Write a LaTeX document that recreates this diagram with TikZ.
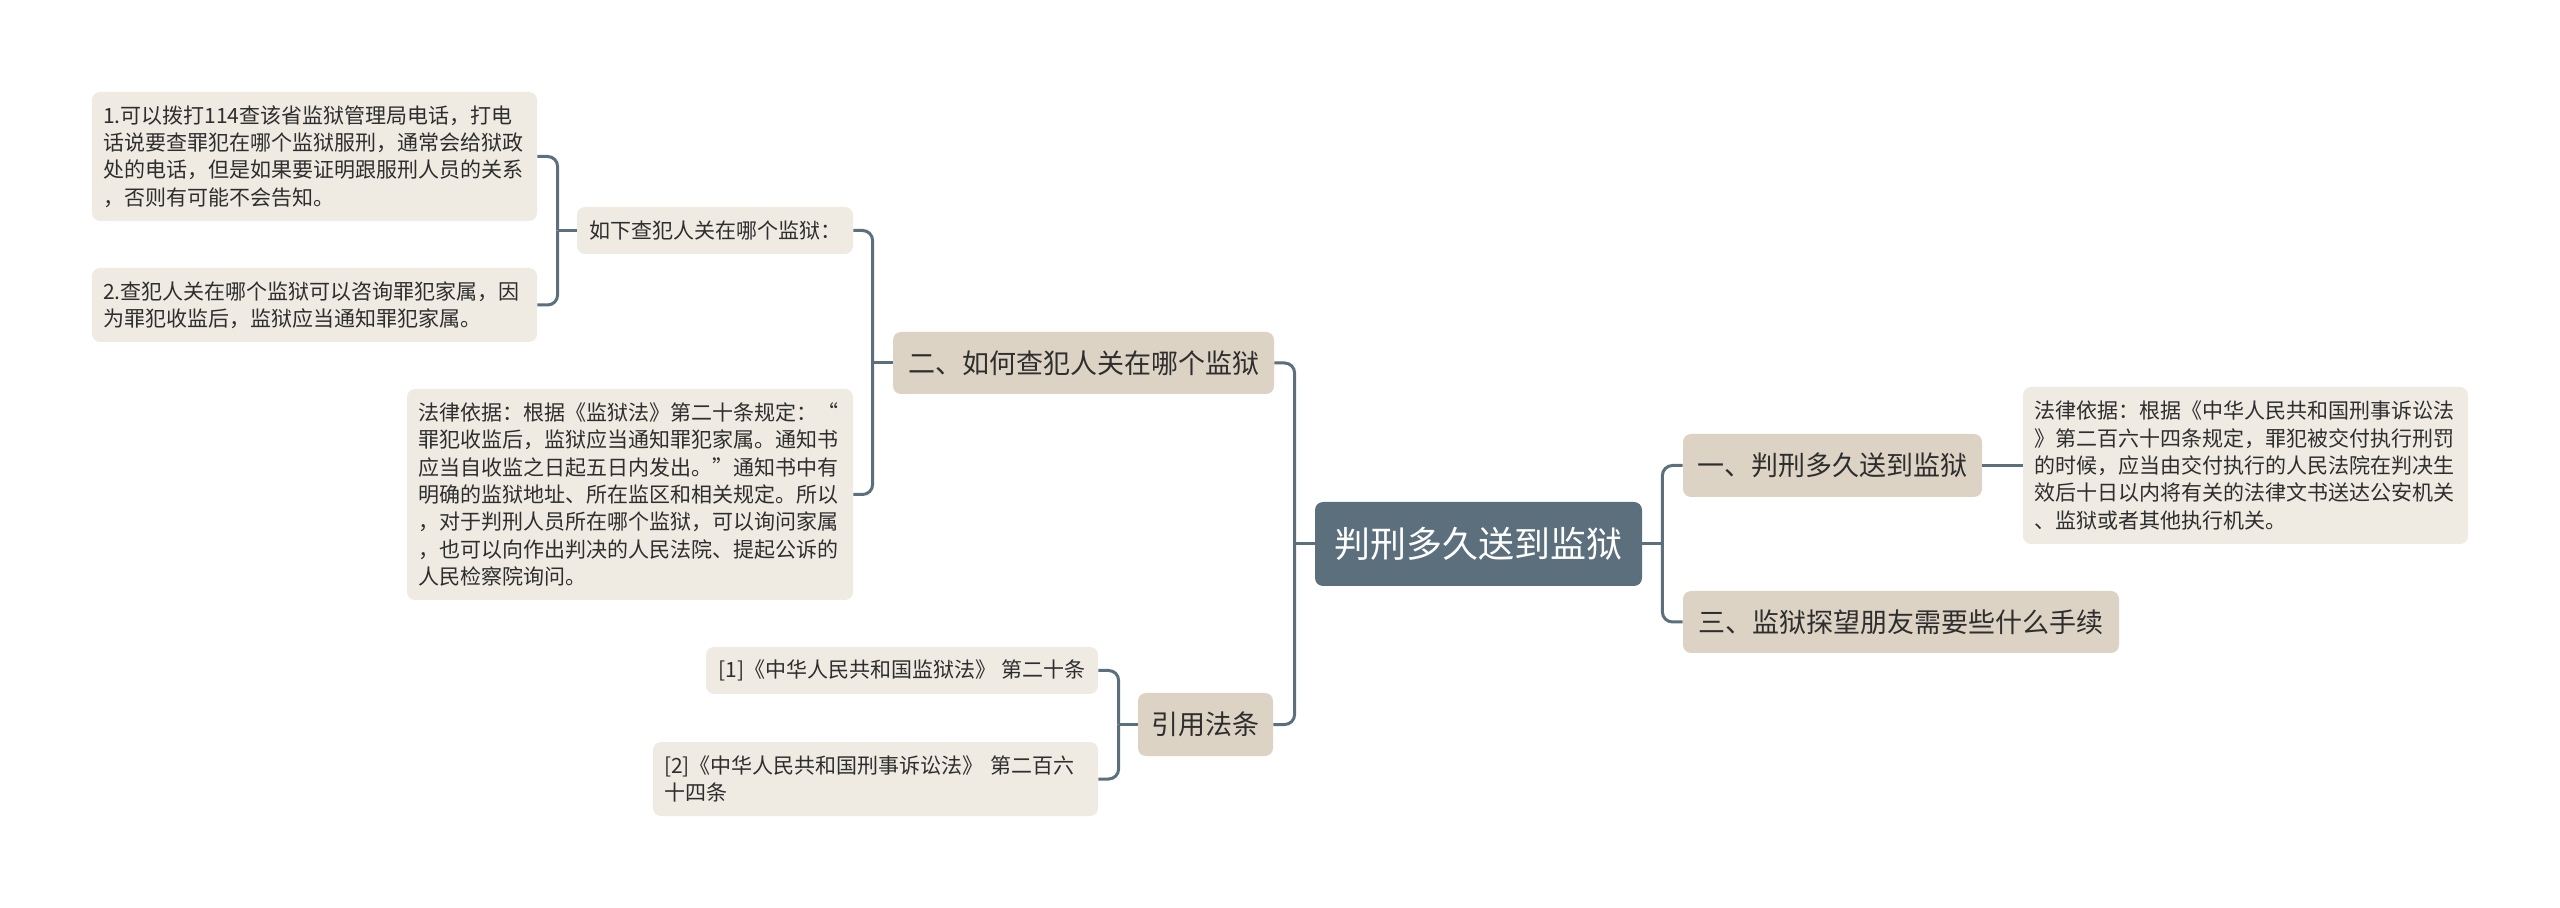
\documentclass[tikz,border=0pt]{standalone}
\usepackage{fontspec}
\setmainfont{Noto Sans CJK SC}
\definecolor{slate}{HTML}{5C6F7C}
\definecolor{beige}{HTML}{DDD3C4}
\definecolor{leaf}{HTML}{EFEBE3}
\definecolor{ink}{HTML}{2E2E2E}
\tikzset{
  base/.style={rounded corners=4pt, inner sep=0pt, anchor=center, text=ink},
  rootbox/.style={base, fill=slate, text=white, font=\fontsize{18}{22}\selectfont, align=center},
  mainbox/.style={base, fill=beige, font=\fontsize{13.5}{16}\selectfont, align=center},
  leafbox/.style={base, fill=leaf, font=\fontsize{10.5}{13.65}\selectfont},
  leafpara/.style={leafbox, align=left, inner xsep=5.5pt},
  conn/.style={draw=slate, line width=1.5pt, rounded corners=5pt},
}
\begin{document}
\begin{tikzpicture}[x=0.5pt,y=-0.5pt]
\useasboundingbox (0,0) rectangle (2560,908);
% nodes
\node[rootbox, minimum width=163.5pt, minimum height=42pt] (root) at (1478.5,544) {判刑多久送到监狱};
\node[mainbox, minimum width=190.5pt, minimum height=31pt] (er) at (1083.5,363) {二、如何查犯人关在哪个监狱};
\node[mainbox, minimum width=149.5pt, minimum height=31.5pt] (yi) at (1832.5,465.5) {一、判刑多久送到监狱};
\node[mainbox, minimum width=218pt, minimum height=31pt] (san) at (1901,622) {三、监狱探望朋友需要些什么手续};
\node[mainbox, minimum width=67.5pt, minimum height=31.5pt] (yinyong) at (1205.5,724.5) {引用法条};
\node[leafbox, align=center, minimum width=138pt, minimum height=23.5pt] (ruxia) at (715,230.5) {如下查犯人关在哪个监狱：};
\node[leafpara, text width=211.5pt, minimum height=64.5pt] (b1) at (314.5,156.5) {1.可以拨打114查该省监狱管理局电话，打电\\话说要查罪犯在哪个监狱服刑，通常会给狱政\\处的电话，但是如果要证明跟服刑人员的关系\\，否则有可能不会告知。};
\node[leafpara, text width=211.5pt, minimum height=37pt] (b2) at (314.5,305) {2.查犯人关在哪个监狱可以咨询罪犯家属，因\\为罪犯收监后，监狱应当通知罪犯家属。};
\node[leafpara, text width=212pt, minimum height=105.5pt] (legL) at (630,494.5) {法律依据：根据《监狱法》第二十条规定：“\\罪犯收监后，监狱应当通知罪犯家属。通知书\\应当自收监之日起五日内发出。”通知书中有\\明确的监狱地址、所在监区和相关规定。所以\\，对于判刑人员所在哪个监狱，可以询问家属\\，也可以向作出判决的人民法院、提起公诉的\\人民检察院询问。};
\node[leafpara, text width=211.5pt, minimum height=78.5pt] (legR) at (2245.5,465.5) {法律依据：根据《中华人民共和国刑事诉讼法\\》第二百六十四条规定，罪犯被交付执行刑罚\\的时候，应当由交付执行的人民法院在判决生\\效后十日以内将有关的法律文书送达公安机关\\、监狱或者其他执行机关。};
\node[leafbox, align=center, minimum width=196pt, minimum height=23.5pt] (f1) at (902,670.5) {[1]《中华人民共和国监狱法》 第二十条};
\node[leafpara, text width=211.5pt, minimum height=37pt] (f2) at (875.5,779) {[2]《中华人民共和国刑事诉讼法》 第二百六\\十四条};
% junctions
\coordinate (j1) at ([xshift=-9.5pt]ruxia.west);
\coordinate (j2) at ([xshift=-10pt]er.west);
\coordinate (j3) at ([xshift=-10pt]root.west);
\coordinate (j4) at ([xshift=10pt]root.east);
\coordinate (j5) at ([xshift=-9.5pt]yinyong.west);
% connectors
\draw[conn] (ruxia.west) -- (j1);
\draw[conn] (j1) |- (b1.east);
\draw[conn] (j1) |- (b2.east);
\draw[conn] (er.west) -- (j2);
\draw[conn] (j2) |- (ruxia.east);
\draw[conn] (j2) |- (legL.east);
\draw[conn] (root.west) -- (j3);
\draw[conn] (j3) |- (er.east);
\draw[conn] (j3) |- (yinyong.east);
\draw[conn] (root.east) -- (j4);
\draw[conn] (j4) |- (yi.west);
\draw[conn] (j4) |- (san.west);
\draw[conn] (yi.east) -- (legR.west);
\draw[conn] (yinyong.west) -- (j5);
\draw[conn] (j5) |- (f1.east);
\draw[conn] (j5) |- (f2.east);
\end{tikzpicture}
\end{document}
